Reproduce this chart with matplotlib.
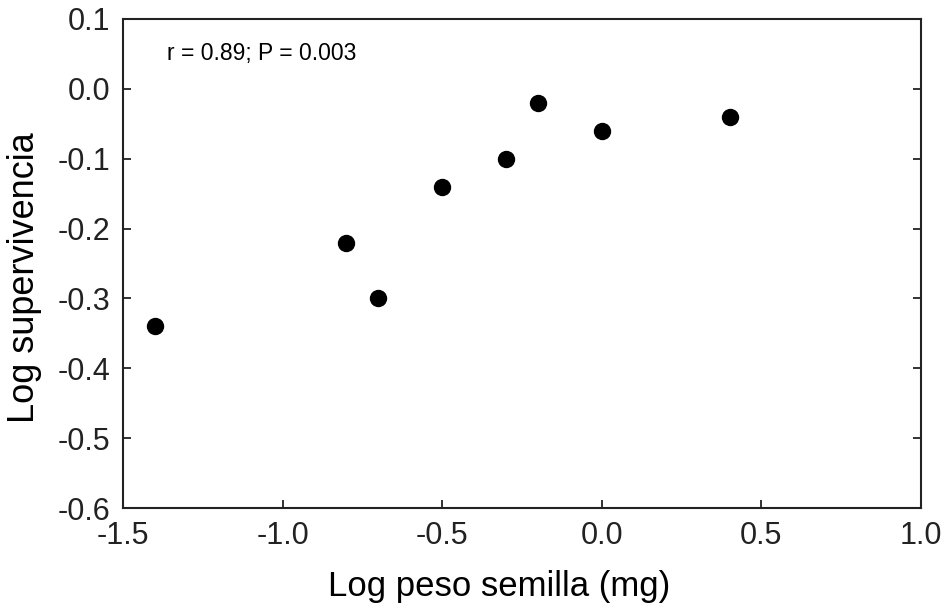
import matplotlib
matplotlib.use("Agg")
import matplotlib.pyplot as plt

plt.rcParams['font.family'] = ['Liberation Sans', 'DejaVu Sans']

# datos
peso_semilla = [-1.4, -0.8, -0.7, -0.5, -0.3, -0.2, 0.0, 0.4]
supervivencia = [-0.34, -0.22, -0.30, -0.14, -0.10, -0.02, -0.06, -0.04]

xticks = [-1.5, -1.0, -0.5, 0.0, 0.5, 1.0]
yticks = [-0.6, -0.5, -0.4, -0.3, -0.2, -0.1, 0.0, 0.1]

fig = plt.figure(figsize=(9.5, 6.1), dpi=100)
ax = fig.add_axes([0.1295, 0.1672, 0.84, 0.8017])

ax.plot(peso_semilla, supervivencia, 'o', color='black', markersize=11.5, clip_on=False)

ax.set_xlim(-1.5, 1.0)
ax.set_ylim(-0.6, 0.1)
ax.set_xticks(xticks)
ax.set_yticks(yticks)
ax.set_xticklabels([f"{t:.1f}" for t in xticks])
ax.set_yticklabels([f"{t:.1f}" for t in yticks])

for s in ax.spines.values():
    s.set_linewidth(1.5)
    s.set_color('#222222')

ax.tick_params(axis='both', direction='in', length=6, width=1.3, labelsize=22, colors='#222222')
ax.tick_params(axis='y', right=True, pad=9)
ax.tick_params(axis='x', pad=9)

ax.set_xlabel("Log peso semilla (mg)", fontsize=25)
ax.set_ylabel("Log supervivencia", fontsize=26)
# las etiquetas no estan centradas en el original
ax.xaxis.set_label_coords(0.471, -0.127)
ax.yaxis.set_label_coords(-0.102, 0.472)

ax.text(-1.362, 0.05, "r = 0.89; P = 0.003", fontsize=16.5, va='center', ha='left')

fig.savefig("out.png", dpi=100)
